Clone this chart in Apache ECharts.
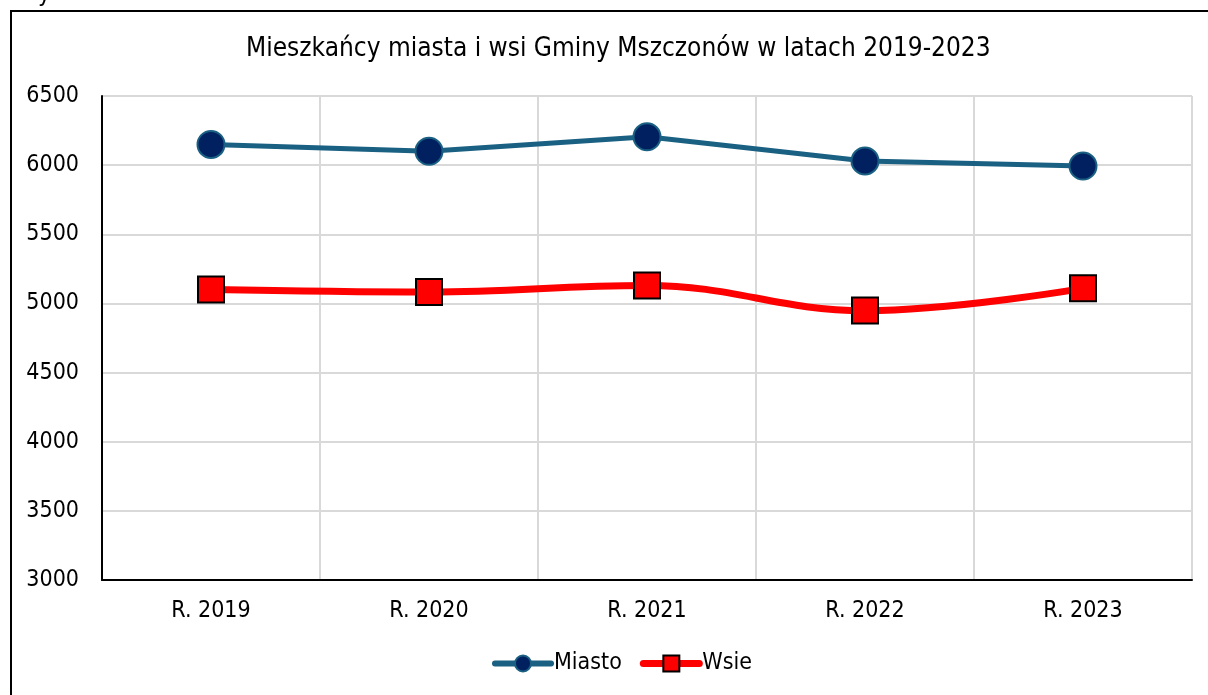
<!DOCTYPE html>
<html>
<head>
<meta charset="utf-8">
<script src="https://cdn.jsdelivr.net/npm/echarts@6/dist/echarts.min.js"></script>
<style>
  html, body { margin: 0; padding: 0; background: #fff; }
  #chart { width: 1208px; height: 695px; }
</style>
</head>
<body>
<div id="chart"></div>
<script>
// ── Dane ────────────────────────────────────────────────────────────────
const LATA   = ['R. 2019', 'R. 2020', 'R. 2021', 'R. 2022', 'R. 2023'];
const MIASTO = [6150, 6100, 6205, 6030, 5993];
const WSIE   = [5100, 5082, 5130, 4948, 5109];
const Y_TICKS = [3000, 3500, 4000, 4500, 5000, 5500, 6000, 6500];

const FONT = '"DejaVu Sans Condensed", "DejaVu Sans", sans-serif';
const BLUE = '#1a6082';

const chart = echarts.init(document.getElementById('chart'), null, { renderer: 'canvas' });

chart.setOption({
  animation: false,
  backgroundColor: '#fff',
  textStyle: { fontFamily: FONT },
  title: {
    text: 'Mieszkańcy miasta i wsi Gminy Mszczonów w latach 2019-2023',
    left: 241,
    top: 31,
    textStyle: { fontFamily: FONT, fontSize: 26, fontWeight: 'normal', color: '#000' },
  },
  grid: { left: 102, right: 16, top: 96, bottom: 115 },
  legend: {
    bottom: 15,
    left: 487,
    itemWidth: 56,
    itemHeight: 20,
    itemGap: 18,
    textStyle: { fontFamily: FONT, fontSize: 23, color: '#000', padding: [0, 0, 0, -2] },
    data: [
      { name: 'Miasto', lineStyle: { width: 6, cap: 'round' } },
      { name: 'Wsie', lineStyle: { width: 7, cap: 'round' } },
    ],
  },
  xAxis: {
    type: 'category',
    data: LATA,
    boundaryGap: true,
    axisLine: { lineStyle: { color: '#000', width: 2 } },
    axisTick: { show: false },
    axisLabel: { fontFamily: FONT, fontSize: 23, color: '#000', margin: 20 },
    splitLine: { show: true, lineStyle: { color: '#d9d9d9', width: 2 } },
  },
  yAxis: {
    type: 'value',
    min: Y_TICKS[0],
    max: Y_TICKS[Y_TICKS.length - 1],
    interval: 500,
    axisLine: { show: true, lineStyle: { color: '#000', width: 2 } },
    axisTick: { show: false },
    axisLabel: { fontFamily: FONT, fontSize: 23, color: '#000', margin: 23, formatter: (v) => String(v) },
    splitLine: { lineStyle: { color: '#d9d9d9', width: 2 } },
  },
  series: [
    {
      name: 'Miasto',
      type: 'line',
      data: MIASTO,
      symbol: 'circle',
      symbolSize: 27,
      lineStyle: { color: BLUE, width: 5 },
      itemStyle: { color: '#002060', borderColor: BLUE, borderWidth: 2 },
      z: 3,
    },
    {
      name: 'Wsie',
      type: 'line',
      data: WSIE,
      smooth: 0.4,
      symbol: 'rect',
      symbolSize: 26,
      lineStyle: { color: '#ff0000', width: 7 },
      itemStyle: { color: '#ff0000', borderColor: '#000', borderWidth: 2 },
      z: 4,
    },
  ],
  graphic: [
    {
      type: 'rect',
      shape: { x: 11, y: 11, width: 1300, height: 800 },
      style: { fill: 'none', stroke: '#000', lineWidth: 2 },
      silent: true,
    },
    {
      type: 'text',
      left: 38,
      top: -17,
      style: { text: 'y', font: '24px ' + FONT, fill: '#000' },
      silent: true,
    },
  ],
});
</script>
</body>
</html>
